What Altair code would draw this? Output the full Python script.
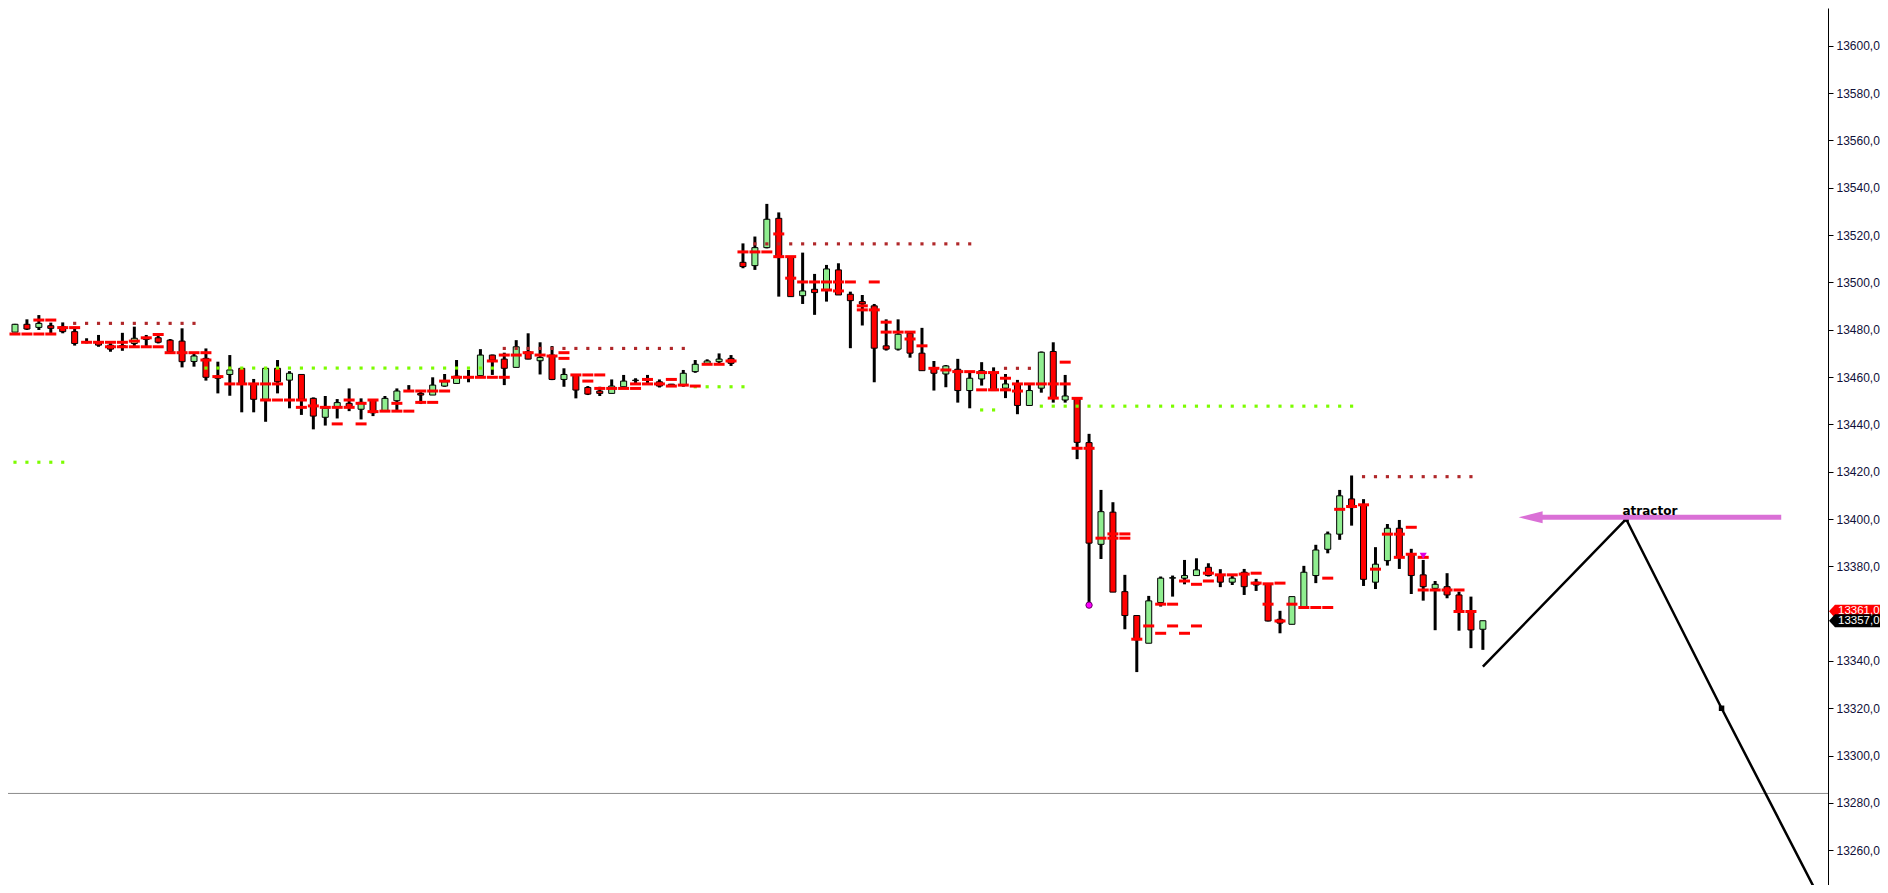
import altair as alt
import pandas as pd

# ---------------- candle data (index = bar number) ----------------
opens = [13479.0, 13482.3, 13481.0, 13481.7, 13481.3, 13479.2, 13474.8, 13475.0, 13473.5, 13473.3,
         13474.2, 13475.9, 13476.6, 13475.6, 13475.2, 13466.6, 13467.9, 13460.4, 13461.1, 13463.7,
         13457.1, 13450.6, 13463.7, 13458.7, 13461.1, 13451.0, 13443.0, 13447.5, 13448.9, 13446.4,
         13450.3, 13445.6, 13450.0, 13454.2, 13453.1, 13452.4, 13456.2, 13457.3, 13459.9, 13460.6,
         13469.3, 13467.6, 13464.1, 13470.7, 13466.9, 13469.3, 13459.0, 13460.9, 13455.6, 13454.1,
         13453.1, 13455.9, 13458.5, 13458.8, 13458.0, 13457.0, 13456.6, 13462.3, 13465.8, 13466.5,
         13467.9, 13508.5, 13507.1, 13514.7, 13527.1, 13510.9, 13494.4, 13497.1, 13496.8, 13505.3,
         13495.0, 13491.9, 13490.1, 13473.2, 13471.8, 13478.5, 13470.1, 13463.7, 13461.3, 13463.3,
         13454.3, 13459.2, 13461.9, 13455.3, 13457.1, 13448.0, 13455.3, 13470.8, 13450.3, 13451.0,
         13432.3, 13389.3, 13402.9, 13369.3, 13359.2, 13347.5, 13364.7, 13375.0, 13375.0, 13376.1,
         13379.6, 13376.4, 13373.3, 13377.5, 13373.3, 13372.6, 13357.6, 13355.5, 13362.7, 13376.1,
         13387.2, 13393.6, 13408.5, 13406.0, 13373.3, 13382.4, 13396.1, 13385.2, 13376.4, 13370.7,
         13371.4, 13367.9, 13360.9, 13353.4]
highs = [13482.5, 13484.4, 13486.2, 13483.0, 13483.1, 13481.3, 13476.4, 13477.8, 13475.0, 13478.7,
         13481.3, 13477.8, 13478.5, 13476.1, 13480.6, 13470.3, 13472.1, 13466.5, 13469.3, 13463.7,
         13459.2, 13463.7, 13467.2, 13462.5, 13461.1, 13451.4, 13452.0, 13450.7, 13455.2, 13451.0,
         13450.3, 13452.0, 13455.2, 13456.6, 13454.1, 13459.9, 13461.3, 13467.2, 13463.0, 13471.8,
         13469.5, 13470.3, 13475.6, 13478.5, 13474.7, 13473.1, 13463.7, 13460.9, 13456.2, 13455.9,
         13459.0, 13460.9, 13459.5, 13460.9, 13459.0, 13457.1, 13463.0, 13467.2, 13467.5, 13470.0,
         13469.3, 13516.5, 13519.4, 13533.2, 13529.6, 13510.9, 13512.6, 13503.6, 13507.4, 13508.1,
         13496.1, 13494.7, 13490.9, 13484.4, 13484.4, 13479.2, 13480.8, 13466.8, 13465.1, 13467.7,
         13462.3, 13466.3, 13464.1, 13461.3, 13458.8, 13457.1, 13470.8, 13474.7, 13460.9, 13451.0,
         13436.0, 13412.3, 13407.1, 13376.4, 13359.2, 13367.5, 13375.7, 13376.1, 13382.7, 13383.4,
         13381.3, 13378.8, 13376.4, 13378.9, 13374.7, 13372.6, 13361.2, 13367.2, 13380.2, 13389.1,
         13394.7, 13412.3, 13418.4, 13408.4, 13388.1, 13397.9, 13399.6, 13387.4, 13382.7, 13373.8,
         13377.1, 13369.3, 13367.2, 13357.0]
lows = [13479.0, 13479.9, 13479.9, 13478.0, 13478.5, 13473.3, 13474.2, 13472.8, 13470.7, 13471.1,
        13472.8, 13472.8, 13474.2, 13470.0, 13464.1, 13464.4, 13458.5, 13453.1, 13452.1, 13445.1,
        13445.1, 13441.1, 13453.1, 13446.8, 13444.0, 13437.9, 13439.5, 13442.5, 13445.6, 13442.1,
        13443.5, 13445.6, 13446.1, 13453.8, 13448.6, 13452.4, 13455.9, 13457.3, 13457.8, 13459.9,
        13460.9, 13456.6, 13464.1, 13467.5, 13461.1, 13458.7, 13455.9, 13451.0, 13452.4, 13452.0,
        13453.1, 13455.2, 13457.1, 13457.3, 13455.6, 13455.9, 13455.9, 13461.8, 13465.5, 13465.8,
        13464.7, 13506.0, 13505.3, 13514.4, 13494.0, 13494.0, 13490.9, 13486.3, 13491.9, 13494.7,
        13472.2, 13481.8, 13457.8, 13471.2, 13471.2, 13468.2, 13462.7, 13454.3, 13455.7, 13449.2,
        13446.8, 13456.4, 13454.3, 13451.1, 13444.3, 13448.0, 13453.4, 13449.2, 13449.2, 13425.3,
        13363.4, 13383.1, 13369.1, 13353.4, 13335.3, 13347.5, 13363.0, 13367.2, 13372.4, 13376.1,
        13375.7, 13371.2, 13372.1, 13367.9, 13369.6, 13356.7, 13351.7, 13355.5, 13362.7, 13372.9,
        13385.5, 13391.2, 13397.2, 13371.7, 13370.4, 13380.3, 13378.9, 13368.3, 13365.5, 13353.0,
        13366.5, 13352.8, 13345.4, 13344.7]
closes = [13482.3, 13480.3, 13482.7, 13480.6, 13479.2, 13474.2, 13474.6, 13473.5, 13471.8, 13473.0,
          13476.4, 13476.8, 13474.7, 13470.7, 13466.5, 13468.9, 13459.9, 13459.5, 13463.0, 13457.1,
          13450.6, 13463.7, 13458.0, 13461.6, 13450.6, 13443.5, 13446.8, 13449.2, 13447.2, 13449.3,
          13444.9, 13451.0, 13454.1, 13454.0, 13452.4, 13456.6, 13458.0, 13460.4, 13460.2, 13469.3,
          13467.2, 13463.7, 13472.8, 13467.6, 13468.3, 13459.0, 13461.1, 13454.5, 13452.8, 13453.1,
          13456.2, 13458.3, 13458.7, 13458.6, 13456.2, 13456.4, 13461.6, 13465.4, 13466.8, 13467.6,
          13465.8, 13506.7, 13514.7, 13526.7, 13510.5, 13494.0, 13496.4, 13495.7, 13505.7, 13494.7,
          13492.3, 13490.9, 13472.2, 13471.8, 13478.1, 13470.1, 13462.7, 13461.6, 13464.7, 13454.3,
          13459.5, 13462.7, 13454.3, 13457.1, 13448.0, 13454.3, 13470.5, 13451.1, 13452.0, 13432.4,
          13389.8, 13403.1, 13369.1, 13359.2, 13348.9, 13365.4, 13375.0, 13375.2, 13376.1, 13378.5,
          13376.1, 13373.3, 13375.0, 13371.4, 13372.1, 13356.9, 13356.0, 13367.2, 13377.5, 13386.9,
          13393.7, 13409.8, 13404.8, 13374.5, 13380.9, 13396.1, 13384.1, 13376.1, 13371.4, 13372.4,
          13367.9, 13360.9, 13353.1, 13357.0]

# ---------------- red level dashes ----------------
dash_idx = [0, 1, 2, 2, 3, 3, 4, 5, 6, 7, 8, 8, 9, 9, 10, 10, 11, 11, 12, 12,
            13, 14, 15, 16, 16, 17, 18, 19, 20, 21, 21, 22, 22, 23, 24, 24, 25, 26, 27, 27,
            28, 28, 29, 29, 30, 30, 31, 32, 32, 33, 33, 34, 34, 35, 35, 36, 36, 37, 38, 39,
            40, 40, 41, 41, 42, 43, 44, 45, 46, 46, 47, 48, 48, 49, 49, 50, 51, 52, 52, 53,
            53, 54, 55, 55, 56, 57, 58, 59, 60, 61, 62, 63, 64, 64, 65, 65, 66, 67, 68, 68,
            69, 69, 70, 71, 71, 72, 72, 73, 73, 74, 75, 75, 76, 77, 78, 79, 80, 81, 81, 82,
            82, 83, 83, 84, 84, 85, 86, 87, 87, 88, 88, 89, 89, 90, 91, 92, 92, 93, 93, 94,
            95, 96, 96, 97, 97, 98, 98, 99, 99, 100, 100, 101, 102, 103, 104, 104, 105, 105, 106, 106,
            107, 108, 109, 110, 110, 111, 112, 113, 114, 115, 116, 116, 117, 117, 118, 118, 119, 120, 121, 121,
            122]
dash_val = [13478.2, 13478.2, 13484.1, 13478.2, 13484.1, 13478.2, 13480.9, 13480.9, 13474.7, 13474.7,
            13474.7, 13472.8, 13474.7, 13472.8, 13475.2, 13472.8, 13476.6, 13472.8, 13478.0, 13472.8,
            13470.3, 13470.3, 13470.3, 13470.3, 13467.2, 13460.2, 13457.1, 13457.1, 13457.1, 13457.1,
            13450.3, 13457.1, 13450.3, 13450.3, 13450.3, 13447.2, 13447.8, 13447.2, 13447.2, 13440.2,
            13450.3, 13447.2, 13448.9, 13440.2, 13450.3, 13445.4, 13445.6, 13448.9, 13445.6, 13454.1,
            13445.6, 13454.1, 13449.3, 13454.1, 13449.3, 13458.3, 13454.1, 13459.9, 13459.9, 13459.9,
            13466.8, 13459.9, 13469.3, 13459.9, 13469.3, 13470.3, 13469.3, 13468.9, 13470.3, 13467.9,
            13460.9, 13460.9, 13458.3, 13460.9, 13455.2, 13455.2, 13455.2, 13457.1, 13455.2, 13459.0,
            13457.1, 13457.1, 13459.0, 13456.2, 13456.6, 13456.2, 13465.4, 13465.4, 13466.8, 13512.9,
            13512.9, 13512.9, 13520.5, 13510.9, 13510.9, 13501.8, 13500.2, 13500.2, 13500.2, 13496.8,
            13500.2, 13496.4, 13500.2, 13490.1, 13488.4, 13500.2, 13488.4, 13483.2, 13479.0, 13479.0,
            13479.0, 13476.1, 13473.2, 13463.7, 13463.0, 13462.3, 13462.3, 13461.9, 13454.6, 13461.9,
            13454.6, 13459.5, 13454.6, 13457.1, 13454.1, 13457.1, 13457.1, 13457.1, 13451.1, 13466.3,
            13457.1, 13451.0, 13429.9, 13429.9, 13391.9, 13393.7, 13391.9, 13393.7, 13391.9, 13349.2,
            13354.8, 13364.0, 13351.7, 13364.0, 13354.8, 13373.8, 13351.7, 13372.4, 13354.8, 13377.1,
            13373.8, 13376.4, 13376.4, 13376.7, 13377.1, 13372.9, 13372.6, 13364.0, 13372.9, 13356.9,
            13364.0, 13362.6, 13362.6, 13375.0, 13362.6, 13404.1, 13405.3, 13406.0, 13378.8, 13393.6,
            13393.6, 13383.8, 13396.5, 13385.1, 13383.8, 13370.0, 13370.0, 13370.0, 13370.0, 13360.9,
            13360.9]

# ---------------- dotted resistance / support levels ----------------
res_start = [5, 41, 62, 83, 113]
res_end = [15, 56, 80, 85, 122]
res_val = [13482.7, 13472.1, 13516.3, 13463.7, 13417.9]
sup_start = [-1, 16, 57, 81, 86]
sup_end = [4, 40, 61, 82, 112]
sup_val = [13424.0, 13463.8, 13455.9, 13446.1, 13447.7]

# ---------------- projection, attractor, markers ----------------
proj_idx = [123.0, 135.0, 143.0, 152.0]
proj_val = [13337.6, 13400.0, 13320.0, 13232.0]
node_idx = [135.0, 143.0]
node_val = [13400.0, 13320.0]
attr_from = 127.0
attr_to = 148.0
attr_val = 13400.7
attr_label = "atractor"
attr_label_idx = 137.0
attr_label_val = 13401.6
ref_line = 13284.0
low_dot_idx, low_dot_val = 90, 13363.6
signal_idx, signal_val = 118, 13384.4
tag_vals = [13361.0, 13357.0]
tag_texts = ["13361,0", "13357,0"]
tag_colors = ["#FF0000", "#000000"]
tick_values = [v for v in range(13260, 13601, 20) if v != 13360]

# ---------------- build tables ----------------
candles = pd.DataFrame({"i": list(range(len(opens))), "open": opens, "high": highs,
                        "low": lows, "close": closes})
dashes = pd.DataFrame({"i": dash_idx, "v": dash_val})
dots = []
for s, e, v in zip(res_start, res_end, res_val):
    for k in range(s, e + 1):
        dots.append({"i": k, "v": v, "c": "#B0282A"})
for s, e, v in zip(sup_start, sup_end, sup_val):
    for k in range(s, e + 1):
        dots.append({"i": k, "v": v, "c": "#7CFC00"})
dots = pd.DataFrame(dots)
proj = pd.DataFrame({"i": proj_idx, "v": proj_val})
nodes = pd.DataFrame({"i": node_idx, "v": node_val})
attr = pd.DataFrame({"i": [attr_from], "i2": [attr_to], "v": [attr_val]})
attr_head = pd.DataFrame({"i": [attr_from], "v": [attr_val]})
attr_txt = pd.DataFrame({"i": [attr_label_idx], "v": [attr_label_val], "t": [attr_label]})
refl = pd.DataFrame({"v": [ref_line]})
lowdot = pd.DataFrame({"i": [low_dot_idx], "v": [low_dot_val]})
signal = pd.DataFrame({"i": [signal_idx], "v": [signal_val]})
tags = pd.DataFrame({"v": tag_vals, "t": tag_texts, "c": tag_colors})

PLOT_W = 1820
PLOT_H = 877
xscale = alt.Scale(domain=[-1 / 6, 151.5], nice=False, zero=False)
yscale = alt.Scale(domain=[13245.3, 13616.0], nice=False, zero=False)
yaxis = alt.Axis(orient="right", values=tick_values, title=None, grid=False,
                 labelExpr="replace(format(datum.value, '.1f'), '.', ',')",
                 labelFont="Liberation Sans", labelFontSize=12, labelColor="#10103A",
                 tickSize=5, tickColor="#000000", domainColor="#000000", domainWidth=1,
                 labelPadding=3, labelOverlap=False, labelFlush=False)


def X(f):
    return alt.X(f, type="quantitative", scale=xscale, axis=None)


def Y(f):
    return alt.Y(f, type="quantitative", scale=yscale, axis=yaxis)


ref_rule = alt.Chart(refl).mark_rule(color="#8C8C8C", strokeWidth=1).encode(y=Y("v"))

wicks = alt.Chart(candles).mark_rule(color="#000000", strokeWidth=3).encode(
    x=X("i"), y=Y("low"), y2="high")

bodies = alt.Chart(candles).mark_bar(width=6, stroke="#000000", strokeWidth=1).encode(
    x=X("i"), y=Y("open"), y2="close",
    fill=alt.condition("datum.close >= datum.open", alt.value("#90EE90"), alt.value("#FF0000")))

dot_layer = alt.Chart(dots).mark_square(size=10, opacity=1).encode(
    x=X("i"), y=Y("v"), color=alt.Color("c:N", scale=None))

dash_layer = alt.Chart(dashes).mark_tick(orient="horizontal", size=11, thickness=3,
                                         color="#FF0000", opacity=1).encode(x=X("i"), y=Y("v"))

low_layer = alt.Chart(lowdot).mark_point(shape="circle", size=40, filled=True, fill="#FF00FF",
                                         stroke="#660066", strokeWidth=1, opacity=1).encode(
    x=X("i"), y=Y("v"))
signal_layer = alt.Chart(signal).mark_point(shape="triangle-down", size=50, filled=True,
                                            color="#E000E0", opacity=1).encode(x=X("i"), y=Y("v"))

proj_line = alt.Chart(proj).mark_line(color="#000000", strokeWidth=2.5, clip=True).encode(
    x=X("i"), y=Y("v"), order="i:Q")
proj_nodes = alt.Chart(nodes).mark_square(size=30, color="#000000", opacity=1).encode(
    x=X("i"), y=Y("v"))

attr_shaft = alt.Chart(attr).mark_rule(color="#DA70D6", strokeWidth=5).encode(
    x=X("i"), x2="i2", y=Y("v"))
attr_arrow = alt.Chart(attr_head).mark_point(
    shape="M -1 0 L 1 -0.5 L 1 0.5 Z", size=576, filled=True, color="#DA70D6", opacity=1).encode(
    x=X("i"), y=Y("v"))
attr_text = alt.Chart(attr_txt).mark_text(font="DejaVu Sans", fontWeight="bold", fontSize=12,
                                          color="#000000", align="center",
                                          baseline="alphabetic").encode(
    x=X("i"), y=Y("v"), text="t:N")

tag_shape = alt.Chart(tags).mark_point(
    shape="M -1 0 L -0.8 -0.22 L 1 -0.22 L 1 0.22 L -0.8 0.22 Z", size=3600, filled=True,
    opacity=1, clip=False).encode(
    x=alt.value(PLOT_W + 31), y=Y("v"), color=alt.Color("c:N", scale=None))
tag_text = alt.Chart(tags).mark_text(font="Liberation Sans", fontSize=11.5, color="#FFFFFF",
                                     align="left", baseline="middle", clip=False).encode(
    x=alt.value(PLOT_W + 10), y=Y("v"), text="t:N")

chart = alt.layer(
    ref_rule, wicks, bodies, dot_layer, dash_layer, low_layer, signal_layer,
    proj_line, proj_nodes, attr_shaft, attr_arrow, attr_text, tag_shape, tag_text
).properties(
    width=PLOT_W, height=PLOT_H,
    autosize=alt.AutoSizeParams(type="none"),
    padding={"left": 0, "top": 0, "right": 52, "bottom": 0},
    background="#FFFFFF",
).configure_view(stroke=None)

chart.save("out.html", embed_options={"renderer": "svg", "actions": False})
